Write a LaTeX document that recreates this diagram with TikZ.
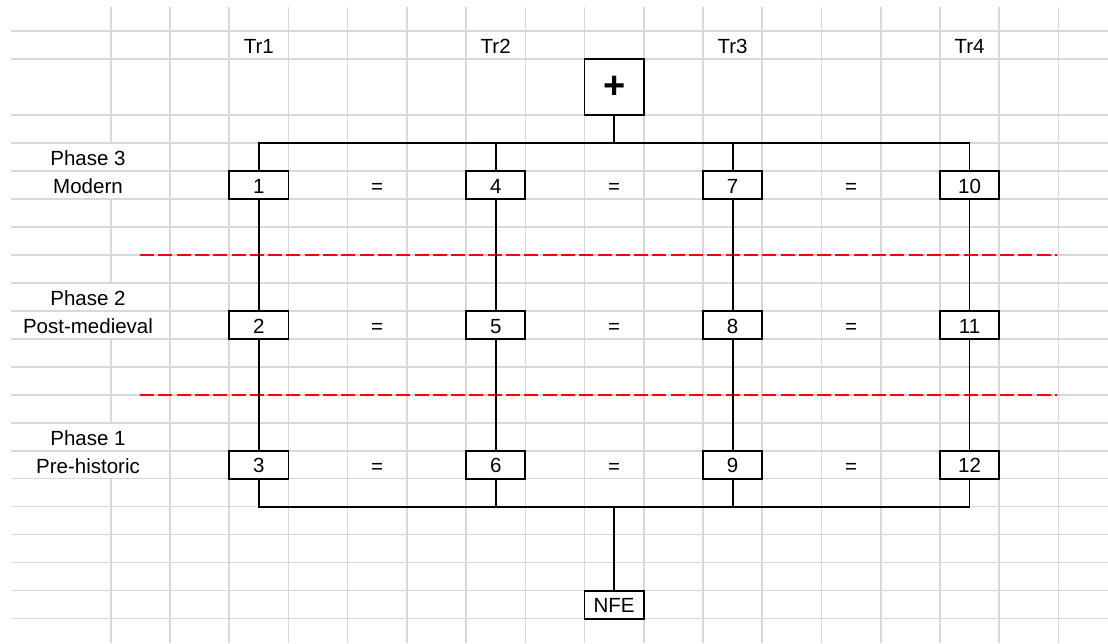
\documentclass[tikz,border=0pt]{standalone}
\usepackage{fontspec}
\setmainfont{Liberation Sans}
\definecolor{gridgray}{RGB}{216,216,216}
\definecolor{phasered}{RGB}{255,0,0}
\newcommand\fs{\fontsize{20.5}{24}\selectfont}
\tikzset{
  cell/.style={draw=black, line width=1.8pt, fill=white, minimum width=59.23pt,
    minimum height=27.98pt, inner sep=0pt, font=\fs, text height=16.5pt, text depth=0pt},
  bigcell/.style={draw=black, line width=1.8pt, fill=white, minimum width=59.23pt,
    minimum height=55.96pt, inner sep=0pt, font=\fontsize{38}{38}\selectfont\bfseries},
  lbl/.style={anchor=base, inner sep=0pt, font=\fs},
  conn/.style={draw=black, line width=1.8pt},
  phaseline/.style={draw=phasered, line width=1.7pt, dash pattern=on 14pt off 4.3pt},
  gridline/.style={draw=gridgray, line width=1.6pt}
}
\begin{document}
\begin{tikzpicture}[x=1pt,y=-1pt]
\useasboundingbox (0,0) rectangle (1108,643);
% grid
\foreach \j in {0,1,3,4,5,6,7,8,9,10,11,12,13,14,15,16,17,18,19,20,21}{
  \draw[gridline] (11,{31+27.98*\j}) -- (1108,{31+27.98*\j});
}
\foreach \k in {1,...,16}{
  \draw[gridline] ({110.7+59.23*\k},7) -- ({110.7+59.23*\k},643);
}
\draw[gridline] (110.7,7) -- (110.7,142.9);
\draw[gridline] (110.7,198.9) -- (110.7,282.8);
\draw[gridline] (110.7,338.8) -- (110.7,422.7);
\draw[gridline] (110.7,478.7) -- (110.7,643);
% column titles
\node[lbl] (tr1) at (258.8,53) {Tr1};
\node[lbl] (tr2) at (495.7,53) {Tr2};
\node[lbl] (tr3) at (732.6,53) {Tr3};
\node[lbl] (tr4) at (969.5,53) {Tr4};
% phase labels
\node[lbl] (p3a) at (88,165) {Phase 3};
\node[lbl] (p3b) at (88,193) {Modern};
\node[lbl] (p2a) at (88,305) {Phase 2};
\node[lbl] (p2b) at (88,333) {Post-medieval};
\node[lbl] (p1a) at (88,445) {Phase 1};
\node[lbl] (p1b) at (88,473) {Pre-historic};
% phase separators
\coordinate (s1a) at (140,254.8); \coordinate (s1b) at (1057,254.8);
\coordinate (s2a) at (140,394.7); \coordinate (s2b) at (1057,394.7);
\draw[phaseline] (s1a) -- (s1b);
\draw[phaseline] (s2a) -- (s2b);
% bus coordinates
\coordinate (topbus) at (614.1,142.9);
\coordinate (botbus) at (614.1,506.7);
% boxes
\node[bigcell] (plus) at (614.1,86.95) {+};
\node[cell] (b1) at (258.8,184.9) {1};
\node[cell] (b2) at (258.8,324.8) {2};
\node[cell] (b3) at (258.8,464.7) {3};
\node[cell] (b4) at (495.7,184.9) {4};
\node[cell] (b5) at (495.7,324.8) {5};
\node[cell] (b6) at (495.7,464.7) {6};
\node[cell] (b7) at (732.6,184.9) {7};
\node[cell] (b8) at (732.6,324.8) {8};
\node[cell] (b9) at (732.6,464.7) {9};
\node[cell] (b10) at (969.5,184.9) {10};
\node[cell] (b11) at (969.5,324.8) {11};
\node[cell] (b12) at (969.5,464.7) {12};
\node[cell] (nfe) at (614.1,604.6) {NFE};
% equals
\foreach \r/\y in {a/193, b/333, c/473}{
  \node[lbl] (eq1\r) at (377.2,\y) {=};
  \node[lbl] (eq2\r) at (614.1,\y) {=};
  \node[lbl] (eq3\r) at (851.1,\y) {=};
}
% connectors
\draw[conn] (plus.south) -- (topbus);
\draw[conn] (b1.north) |- (topbus);
\draw[conn] (b10.north) |- (topbus);
\draw[conn] (b4.north) -- (b4.north |- topbus);
\draw[conn] (b7.north) -- (b7.north |- topbus);
\foreach \a/\b in {b1/b2, b2/b3, b4/b5, b5/b6, b7/b8, b8/b9, b10/b11, b11/b12}{
  \draw[conn] (\a.south) -- (\b.north);
}
\draw[conn] (b3.south) |- (botbus);
\draw[conn] (b12.south) |- (botbus);
\draw[conn] (b6.south) -- (b6.south |- botbus);
\draw[conn] (b9.south) -- (b9.south |- botbus);
\draw[conn] (nfe.north) -- (botbus);
\end{tikzpicture}
\end{document}
